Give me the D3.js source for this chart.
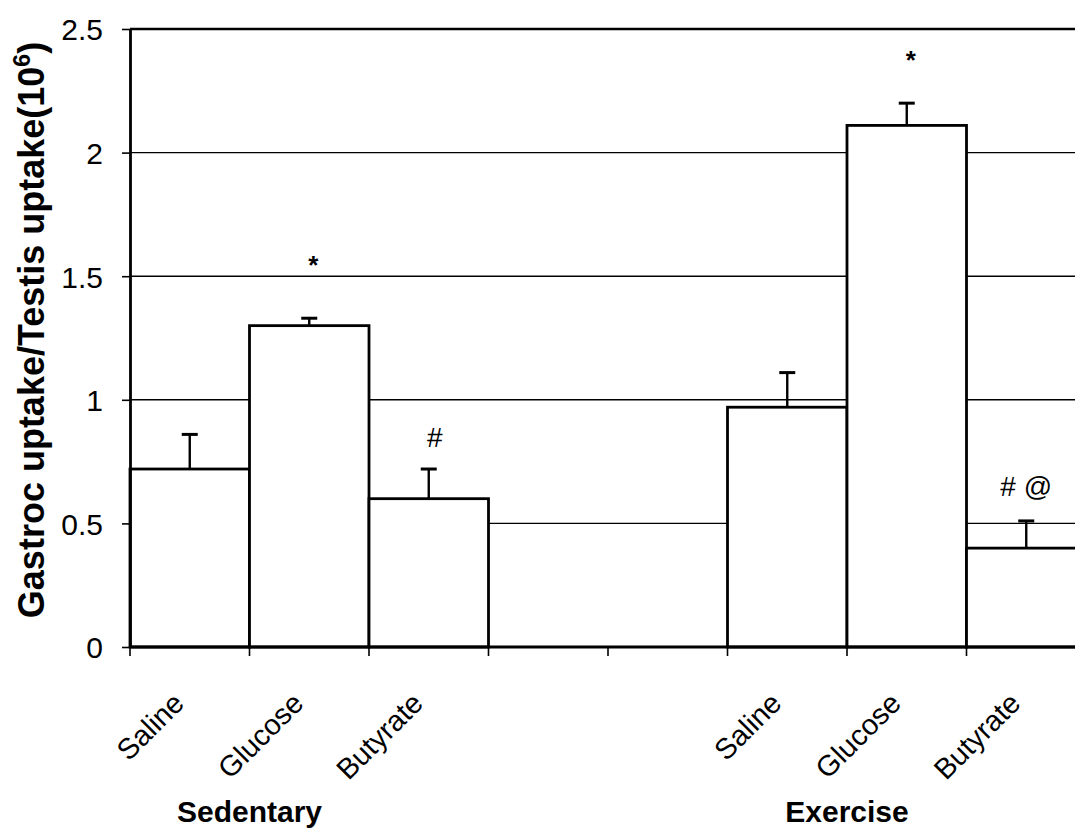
<!DOCTYPE html>
<html>
<head>
<meta charset="utf-8">
<script src="https://cdn.jsdelivr.net/npm/d3@7"></script>
<style>
  html, body { margin: 0; padding: 0; background: #fff; }
  svg { display: block; font-family: "Liberation Sans", Arial, Helvetica, sans-serif; }
</style>
</head>
<body>
<svg id="chart" width="1075" height="837"></svg>
<script>
// Treatment categories, shown for each activity group
const treatments = ["Saline", "Glucose", "Butyrate"];
const groups = ["Sedentary", "Exercise"];

// Mean ratio (x10^6) and its error for each treatment
const sedentaryMeans  = [0.72, 1.30, 0.60];
const sedentaryErrors = [0.14, 0.03, 0.12];
const exerciseMeans   = [0.97, 2.11, 0.40];
const exerciseErrors  = [0.14, 0.09, 0.11];

// Significance markers and the value level they sit at
const sedentaryMarks      = ["", "*", "#"];
const sedentaryMarkLevels = [0, 1.51, 0.81];
const exerciseMarks       = ["", "*", "# @"];
const exerciseMarkLevels  = [0, 2.34, 0.61];

// Value axis ticks
const yTicks = [0, 0.5, 1, 1.5, 2, 2.5];

// Category slots along the x axis: two groups separated by two empty slots
const slots = [
  "sed-Saline", "sed-Glucose", "sed-Butyrate", "gap-1",
  "gap-2", "ex-Saline", "ex-Glucose", "ex-Butyrate"
];

const bars = [];
treatments.forEach((t, i) => {
  bars.push({ slot: "sed-" + t, label: t, mean: sedentaryMeans[i], err: sedentaryErrors[i],
              mark: sedentaryMarks[i], markLevel: sedentaryMarkLevels[i] });
});
treatments.forEach((t, i) => {
  bars.push({ slot: "ex-" + t, label: t, mean: exerciseMeans[i], err: exerciseErrors[i],
              mark: exerciseMarks[i], markLevel: exerciseMarkLevels[i] });
});

const svg = d3.select("#chart");

const plot = { left: 130, right: 1086, top: 29, bottom: 647 };

const x = d3.scaleBand().domain(slots).range([plot.left, plot.right]).padding(0);
const y = d3.scaleLinear().domain([0, 2.5]).range([plot.bottom, plot.top]);

// Horizontal gridlines
svg.append("g")
  .selectAll("line")
  .data(yTicks.filter(v => v > 0 && v < 2.5))
  .join("line")
  .attr("x1", plot.left).attr("x2", plot.right)
  .attr("y1", d => y(d)).attr("y2", d => y(d))
  .attr("stroke", "#000").attr("stroke-width", 1.4);

// Plot frame: top and right edges
svg.append("path")
  .attr("d", `M${plot.left},${y(2.5)}H${plot.right}V${plot.bottom}`)
  .attr("fill", "none").attr("stroke", "#000").attr("stroke-width", 2.4);

// Bars: white fill hides gridlines behind them
svg.append("g")
  .selectAll("rect")
  .data(bars)
  .join("rect")
  .attr("x", d => x(d.slot))
  .attr("y", d => y(d.mean))
  .attr("width", x.bandwidth())
  .attr("height", d => y(0) - y(d.mean))
  .attr("fill", "#fff")
  .attr("stroke", "#000")
  .attr("stroke-width", 2.8);

// Error bars (upper whisker only)
const eb = svg.append("g").attr("stroke", "#000").attr("stroke-width", 2.4);
bars.forEach(d => {
  const cx = x(d.slot) + x.bandwidth() / 2;
  eb.append("line").attr("x1", cx).attr("x2", cx)
    .attr("y1", y(d.mean)).attr("y2", y(d.mean + d.err));
  eb.append("line").attr("x1", cx - 8).attr("x2", cx + 8)
    .attr("y1", y(d.mean + d.err)).attr("y2", y(d.mean + d.err))
    .attr("stroke-width", 3);
});

// Significance markers
svg.append("g")
  .selectAll("text")
  .data(bars.filter(d => d.mark))
  .join("text")
  .attr("x", d => x(d.slot) + x.bandwidth() / 2 + (d.mark === "*" ? 4 : (d.mark === "#" ? 6 : 0)))
  .attr("y", d => y(d.markLevel))
  .attr("text-anchor", "middle")
  .attr("font-size", d => d.mark === "*" ? 26 : 28)
  .attr("font-weight", d => d.mark === "*" ? "bold" : "normal")
  .text(d => d.mark);

// Y axis
const yAxis = svg.append("g")
  .attr("transform", `translate(${plot.left},0)`)
  .call(d3.axisLeft(y).tickValues(yTicks).tickSize(8).tickSizeOuter(0)
    .tickFormat(d3.format("~g")));
yAxis.attr("font-size", null).attr("font-family", null);
yAxis.select(".domain").attr("stroke", "#000").attr("stroke-width", 2.8);
yAxis.selectAll(".tick line").attr("stroke", "#000").attr("stroke-width", 1.6);
yAxis.selectAll(".tick text")
  .attr("x", -27)
  .attr("dy", "0.36em")
  .style("font-size", "30px")
  .attr("fill", "#000");

// X axis: ticks at slot boundaries
const boundaries = slots.map(s => x(s)).concat([plot.right]);
svg.append("line")
  .attr("x1", plot.left).attr("x2", plot.right)
  .attr("y1", plot.bottom).attr("y2", plot.bottom)
  .attr("stroke", "#000").attr("stroke-width", 2.8);
svg.append("g")
  .selectAll("line")
  .data(boundaries)
  .join("line")
  .attr("x1", d => d).attr("x2", d => d)
  .attr("y1", plot.bottom).attr("y2", plot.bottom + 9)
  .attr("stroke", "#000").attr("stroke-width", 1.6);

// Rotated treatment labels
svg.append("g")
  .selectAll("text")
  .data(bars)
  .join("text")
  .attr("transform", d => {
    const cx = x(d.slot) + x.bandwidth() / 2;
    return `translate(${cx - 4},${plot.bottom + 58}) rotate(-45)`;
  })
  .attr("text-anchor", "end")
  .style("font-size", "29px")
  .text(d => d.label);

// Group labels, centred under the middle treatment's left edge
const groupCenters = [x("sed-Glucose"), x("ex-Glucose")];
svg.append("g")
  .selectAll("text")
  .data(groups)
  .join("text")
  .attr("x", (d, i) => groupCenters[i])
  .attr("y", 822)
  .attr("text-anchor", "middle")
  .style("font-size", "30px")
  .attr("font-weight", "bold")
  .text(d => d);

// Y axis title with superscript exponent
const title = svg.append("text")
  .attr("transform", "translate(44,330) rotate(-90)")
  .attr("text-anchor", "middle")
  .style("font-size", "36px")
  .attr("font-weight", "bold");
title.append("tspan").text("Gastroc uptake/Testis uptake(10");
title.append("tspan").attr("dy", -14).style("font-size", "23px").text("6");
title.append("tspan").attr("dy", 14).text(")");
</script>
</body>
</html>
